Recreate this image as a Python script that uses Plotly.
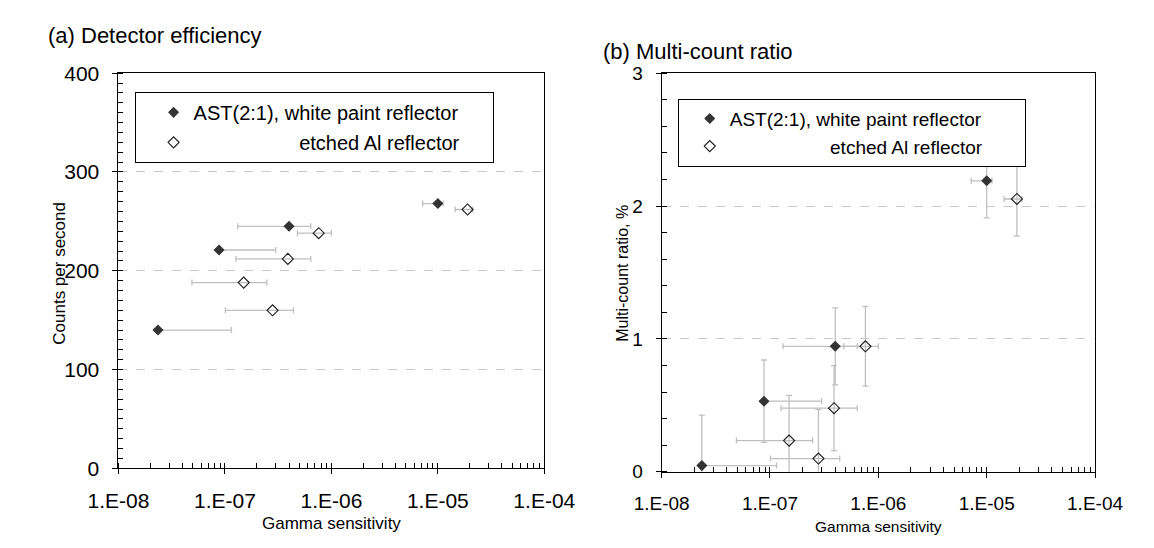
import plotly.graph_objects as go

W, H = 1154, 548
OFF = 8  # the page body adds an 8 px margin in the browser
FONT = "Liberation Sans, Arial, sans-serif"

# Shared gamma sensitivity values (x) and their error limits
white_x = [1.0e-5, 4.0e-7, 8.8e-8, 2.35e-8]
white_x_lo = [7.2e-6, 1.32e-7, 8.8e-8, 2.35e-8]
white_x_hi = [1.12e-5, 6.4e-7, 3.0e-7, 1.15e-7]
etched_x = [1.9e-5, 7.6e-7, 3.9e-7, 1.5e-7, 2.8e-7]
etched_x_lo = [1.45e-5, 4.8e-7, 1.27e-7, 4.9e-8, 1.01e-7]
etched_x_hi = [2.12e-5, 1.0e-6, 6.4e-7, 2.47e-7, 4.4e-7]

# (a) Counts per second
white_cps = [268, 245, 221, 140]
etched_cps = [262, 238, 212, 188, 160]

# (b) Multi-count ratio, %
white_mcr = [2.19, 0.944, 0.531, 0.046]
white_mcr_err = [0.28, 0.29, 0.31, 0.38]
etched_mcr = [2.053, 0.944, 0.478, 0.234, 0.099]
etched_mcr_err = [0.28, 0.30, 0.32, 0.34, 0.37]

x_tickvals = [1e-8, 1e-7, 1e-6, 1e-5, 1e-4]
x_ticktext = ["1.E-08", "1.E-07", "1.E-06", "1.E-05", "1.E-04"]

NB = "\u00a0"
label_white_a = "AST(2:1), white paint reflector" + NB * 5
label_etched_a = NB * 19 + "etched Al reflector" + NB * 5
label_white_b = "AST(2:1), white paint reflector" + NB * 7
label_etched_b = NB * 19 + "etched Al reflector" + NB * 7

ERR_COLOR = "#bfbfbf"
MARK_COLOR = "#333333"


def plus(v, hi):
    return [h - x for x, h in zip(v, hi)]


def minus(v, lo):
    return [x - l for x, l in zip(v, lo)]


def errx(v, lo, hi):
    return dict(type="data", array=plus(v, hi), arrayminus=minus(v, lo),
                color=ERR_COLOR, thickness=1.3, width=3)


def erry(e):
    return dict(type="data", array=e, color=ERR_COLOR, thickness=1.3, width=3)


filled = dict(symbol="diamond", size=8.5, color=MARK_COLOR)
hollow = dict(symbol="diamond-open", size=8.5, color="#1a1a1a", line=dict(width=1.1))

fig = go.Figure()

# ---- panel (a)
fig.add_trace(go.Scatter(
    x=white_x, y=white_cps, mode="markers", name=label_white_a,
    xaxis="x", yaxis="y", legend="legend", legendgroup="a1",
    marker=filled, error_x=errx(white_x, white_x_lo, white_x_hi)))
fig.add_trace(go.Scatter(
    x=etched_x, y=etched_cps, mode="markers", name=label_etched_a,
    xaxis="x", yaxis="y", legend="legend", legendgroup="a2",
    marker=hollow, error_x=errx(etched_x, etched_x_lo, etched_x_hi)))

# ---- panel (b)
fig.add_trace(go.Scatter(
    x=white_x, y=white_mcr, mode="markers", name=label_white_b,
    xaxis="x2", yaxis="y2", legend="legend2", legendgroup="b1",
    marker=filled, error_x=errx(white_x, white_x_lo, white_x_hi),
    error_y=erry(white_mcr_err)))
fig.add_trace(go.Scatter(
    x=etched_x, y=etched_mcr, mode="markers", name=label_etched_b,
    xaxis="x2", yaxis="y2", legend="legend2", legendgroup="b2",
    marker=hollow, error_x=errx(etched_x, etched_x_lo, etched_x_hi),
    error_y=erry(etched_mcr_err)))


def px_x(p):  # page pixel -> paper fraction
    return (p - OFF) / W


def px_y(p):
    return 1 - (p - OFF) / H


def xaxis_common(size, standoff):
    return dict(
        type="log", range=[-8, -4], tickmode="array", tickvals=x_tickvals,
        ticktext=x_ticktext, ticks="outside", ticklen=5, tickcolor="black",
        ticklabelstandoff=standoff,
        showline=True, linecolor="black", linewidth=1, mirror=True,
        showgrid=False, zeroline=False,
        tickfont=dict(family=FONT, size=size, color="black"),
        minor=dict(ticks="inside", ticklen=5, tickcolor="black", dtick="D1",
                   showgrid=False),
    )


def yaxis_common(size, standoff):
    return dict(
        ticks="outside", ticklen=5, tickcolor="black",
        ticklabelstandoff=standoff,
        showline=True, linecolor="black", linewidth=1, mirror=True,
        showgrid=True, gridcolor="#c8c8c8", griddash="dash", gridwidth=1,
        zeroline=False,
        tickfont=dict(family=FONT, size=size, color="black"),
    )


def legend_box(xp, yp, size, gap, indent):
    return dict(x=px_x(xp), y=px_y(yp), xanchor="left", yanchor="top",
                bgcolor="white", bordercolor="black", borderwidth=1,
                font=dict(family=FONT, size=size, color="black"),
                traceorder="grouped", tracegroupgap=gap, itemwidth=30,
                indentation=indent,
                itemclick=False, itemdoubleclick=False)


def label(text, xp, yp, size, angle=0, anchor="center"):
    return dict(text=text, x=px_x(xp), y=px_y(yp), xref="paper", yref="paper",
                xanchor=anchor, yanchor="middle", textangle=angle,
                showarrow=False, font=dict(family=FONT, size=size, color="black"))


fig.update_layout(
    width=W, height=H,
    margin=dict(l=0, r=0, t=0, b=0),
    paper_bgcolor="white", plot_bgcolor="white",
    font=dict(family=FONT, color="black"),
    xaxis=dict(domain=[px_x(92), px_x(542)], anchor="y", **xaxis_common(21, 8)),
    yaxis=dict(domain=[px_y(476), px_y(63.5)], anchor="x", range=[0, 400],
               dtick=100, minor=dict(ticks="inside", ticklen=5,
                                     tickcolor="black", dtick=10,
                                     showgrid=False),
               **yaxis_common(21, 9)),
    xaxis2=dict(domain=[px_x(666), px_x(1124)], anchor="y2", **xaxis_common(19, 9)),
    yaxis2=dict(domain=[px_y(479.5), px_y(63.5)], anchor="x2", range=[0, 3],
                dtick=1, minor=dict(ticks="inside", ticklen=5,
                                    tickcolor="black", dtick=0.2,
                                    showgrid=False),
                **yaxis_common(19, 9)),
    legend=legend_box(109, 83, 20, 1, 18),
    legend2=legend_box(683, 90, 19, 0, 11),
    annotations=[
        label("(a) Detector efficiency", 15, 24, 22, anchor="left"),
        label("(b) Multi-count ratio", 602, 41, 22, anchor="left"),
        label("Counts per second", 30, 272, 17, angle=-90),
        label("Gamma sensitivity", 317, 534, 17),
        label("Multi-count ratio, %", 625, 272, 16, angle=-90),
        label("Gamma sensitivity", 895, 537, 15.5),
    ],
)

fig.write_html("out.html")
